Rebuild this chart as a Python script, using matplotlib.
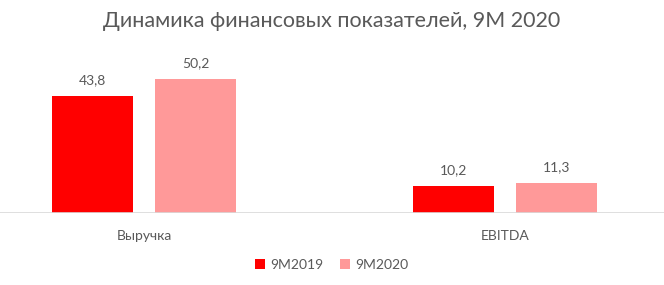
import matplotlib
matplotlib.use("Agg")
import matplotlib.pyplot as plt
import numpy as np

categories = ["Выручка", "EBITDA"]
series_names = ["9M2019", "9M2020"]
values_2019 = [43.8, 10.2]
values_2020 = [50.2, 11.3]
colors = ["#FF0000", "#FF9999"]

plt.rcParams['font.family'] = ['Lato', 'DejaVu Sans']
W, H = 664, 285
fig = plt.figure(figsize=(W/100, H/100), dpi=100)
# axes in pixel coordinates: x 0..664, y from 213 (baseline) to 53 (top)
top_px, base_px = 53, 213
ax = fig.add_axes([0, 1 - base_px/H, 1, (base_px - top_px)/H])
scale = 361.0
ax.set_xlim(-144/scale, (W - 144)/scale)
ax.set_ylim(0, 60)

x = np.arange(len(categories))
off = 51.5/scale
bw = 81/scale
textc = "#595959"
for vals, dx, c, name in [(values_2019, -off, colors[0], series_names[0]),
                          (values_2020, off, colors[1], series_names[1])]:
    bars = ax.bar(x + dx, vals, width=bw, color=c, label=name, zorder=2)
    for b, v in zip(bars, vals):
        ax.annotate(f"{v:.1f}".replace(".", ","), (b.get_x() + b.get_width()/2, v),
                    xytext=(0, 7), textcoords="offset points", ha="center", va="bottom",
                    fontsize=10, color=textc)

for s in ax.spines.values():
    s.set_visible(False)
ax.axhline(0, color="#D9D9D9", lw=1.2, zorder=3)
ax.set_yticks([])
ax.set_xticks(x)
ax.set_xticklabels(categories, fontsize=10, color=textc)
ax.tick_params(axis="x", length=0, pad=12)

fig.text(0.5, 1 - 21/H, "Динамика финансовых показателей, 9M 2020", ha="center", va="center",
         fontsize=15.5, color=textc)
leg = fig.legend(loc="center", bbox_to_anchor=(0.5, 1 - 265/H), ncol=2, frameon=False,
                 fontsize=10, handlelength=0.7, handleheight=0.7, handletextpad=0.4,
                 columnspacing=1.2)
for t in leg.get_texts():
    t.set_color(textc)

fig.savefig("out.png", dpi=100)
